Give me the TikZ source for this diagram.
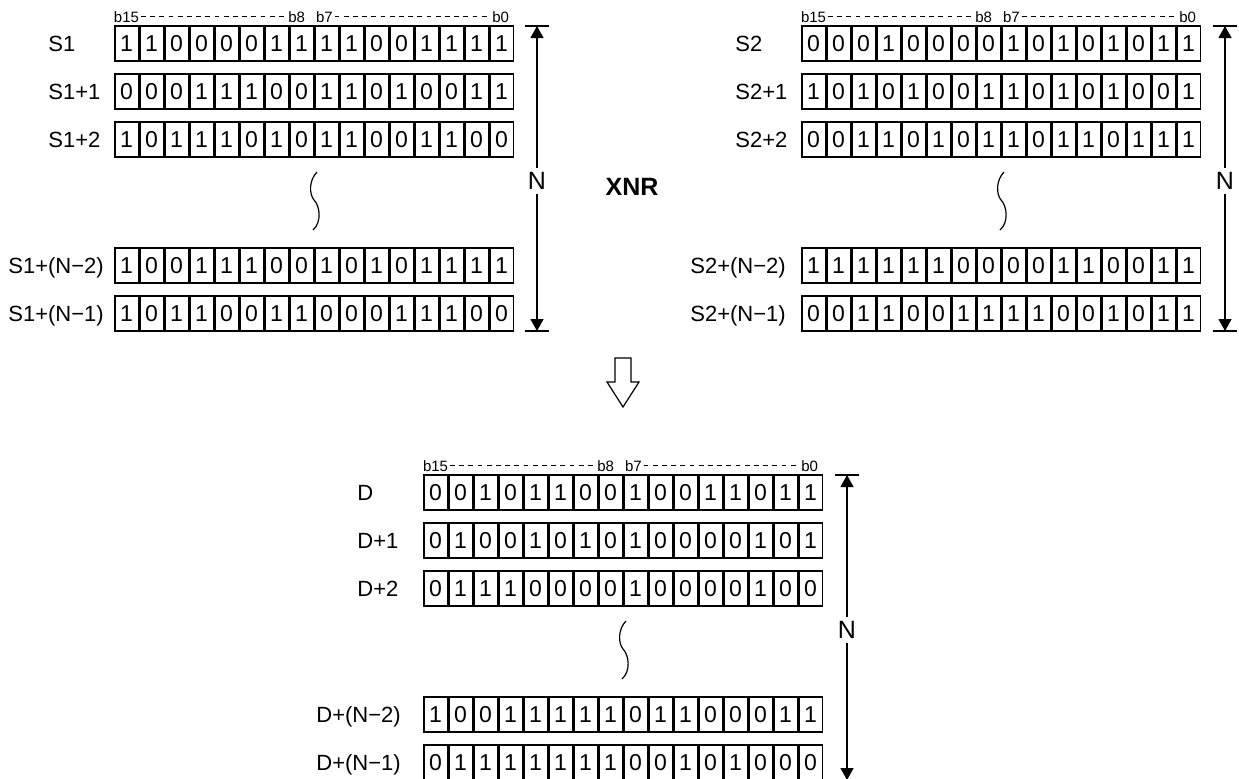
\documentclass[tikz,border=0pt]{standalone}
\usepackage{fontspec}
\setmainfont{Liberation Sans}
\usetikzlibrary{arrows.meta}

\begin{document}
\begin{tikzpicture}[
    x=0.5bp,y=-0.5bp,>={Triangle[length=6bp,width=6.5bp]},
    bit cell/.style={draw,line width=0.6bp,minimum width=11.6bp,minimum height=17.5bp,
      inner sep=0pt,font=\fontsize{11.5bp}{11.5bp}\selectfont},
    row label/.style={anchor=base west,inner sep=0pt,font=\fontsize{11bp}{11bp}\selectfont},
    bit label/.style={inner sep=0.8bp,font=\fontsize{7.5bp}{7.5bp}\selectfont},
    bit dash/.style={dash pattern=on 2.4bp off 2.2bp,line width=0.4bp},
    n label/.style={inner sep=2bp,font=\fontsize{12.5bp}{12.5bp}\selectfont},
    n arrow/.style={->,line width=0.6bp},
    n tick/.style={line width=0.6bp},
    brace line/.style={line width=0.6bp}
  ]
    \useasboundingbox (0,0) rectangle (1239,778);
    % S1 block
    \node[bit label,anchor=base west] (s1b15) at (112,22) {b15};
    \node[bit label,anchor=base east] (s1b8) at (307,22) {b8};
    \node[bit label,anchor=base west] (s1b7) at (314,22) {b7};
    \node[bit label,anchor=base east] (s1b0) at (511,22) {b0};
    \draw[bit dash] (s1b15.east) -- (s1b8.west);
    \draw[bit dash] (s1b7.east) -- (s1b0.west);
    \node[row label] (s1l0) at (48,51) {S1};
    \node[row label] (s1l1) at (48,99) {S1+1};
    \node[row label] (s1l2) at (48,147) {S1+2};
    \node[row label] (s1lm2) at (8,273) {S1+(N−2)};
    \node[row label] (s1lm1) at (8,321) {S1+(N−1)};
    \foreach \b [count=\i from 0] in {1,1,0,0,0,0,1,1,1,1,0,0,1,1,1,1}
      \node[bit cell] (s1r0-\i) at (126.5+25*\i,43.5) {\b};
    \foreach \b [count=\i from 0] in {0,0,0,1,1,1,0,0,1,1,0,1,0,0,1,1}
      \node[bit cell] (s1r1-\i) at (126.5+25*\i,91.5) {\b};
    \foreach \b [count=\i from 0] in {1,0,1,1,1,0,1,0,1,1,0,0,1,1,0,0}
      \node[bit cell] (s1r2-\i) at (126.5+25*\i,139.5) {\b};
    \foreach \b [count=\i from 0] in {1,0,0,1,1,1,0,0,1,0,1,0,1,1,1,1}
      \node[bit cell] (s1rm2-\i) at (126.5+25*\i,265.5) {\b};
    \foreach \b [count=\i from 0] in {1,0,1,1,0,0,1,1,0,0,0,1,1,1,0,0}
      \node[bit cell] (s1rm1-\i) at (126.5+25*\i,313.5) {\b};
    \draw[brace line] (317,172) .. controls (309,180) and (309,194) .. (314,200)
      .. controls (320,206) and (322,222) .. (313,230);
    \coordinate (s1top) at (537,26);
    \coordinate (s1bot) at (537,331);
    \node[n label] (s1n) at (537,181) {N};
    \draw[n arrow] (s1n) -- (s1top);
    \draw[n arrow] (s1n) -- (s1bot);
    \draw[n tick] ([xshift=-6bp]s1top) -- ([xshift=6bp]s1top);
    \draw[n tick] ([xshift=-6bp]s1bot) -- ([xshift=6bp]s1bot);
    % operation
    \node[font=\bfseries\fontsize{12.5bp}{12.5bp}\selectfont] (op) at (632,187) {XNR};
    % S2 block
    \node[bit label,anchor=base west] (s2b15) at (799,22) {b15};
    \node[bit label,anchor=base east] (s2b8) at (994,22) {b8};
    \node[bit label,anchor=base west] (s2b7) at (1001,22) {b7};
    \node[bit label,anchor=base east] (s2b0) at (1198,22) {b0};
    \draw[bit dash] (s2b15.east) -- (s2b8.west);
    \draw[bit dash] (s2b7.east) -- (s2b0.west);
    \node[row label] (s2l0) at (735,51) {S2};
    \node[row label] (s2l1) at (735,99) {S2+1};
    \node[row label] (s2l2) at (735,147) {S2+2};
    \node[row label] (s2lm2) at (690,273) {S2+(N−2)};
    \node[row label] (s2lm1) at (690,321) {S2+(N−1)};
    \foreach \b [count=\i from 0] in {0,0,0,1,0,0,0,0,1,0,1,0,1,0,1,1}
      \node[bit cell] (s2r0-\i) at (813.5+25*\i,43.5) {\b};
    \foreach \b [count=\i from 0] in {1,0,1,0,1,0,0,1,1,0,1,0,1,0,0,1}
      \node[bit cell] (s2r1-\i) at (813.5+25*\i,91.5) {\b};
    \foreach \b [count=\i from 0] in {0,0,1,1,0,1,0,1,1,0,1,1,0,1,1,1}
      \node[bit cell] (s2r2-\i) at (813.5+25*\i,139.5) {\b};
    \foreach \b [count=\i from 0] in {1,1,1,1,1,1,0,0,0,0,1,1,0,0,1,1}
      \node[bit cell] (s2rm2-\i) at (813.5+25*\i,265.5) {\b};
    \foreach \b [count=\i from 0] in {0,0,1,1,0,0,1,1,1,1,0,0,1,0,1,1}
      \node[bit cell] (s2rm1-\i) at (813.5+25*\i,313.5) {\b};
    \draw[brace line,shift={(687,0)}] (317,172) .. controls (309,180) and (309,194) .. (314,200)
      .. controls (320,206) and (322,222) .. (313,230);
    \coordinate (s2top) at (1225,26);
    \coordinate (s2bot) at (1225,331);
    \node[n label] (s2n) at (1225,181) {N};
    \draw[n arrow] (s2n) -- (s2top);
    \draw[n arrow] (s2n) -- (s2bot);
    \draw[n tick] ([xshift=-6bp]s2top) -- ([xshift=6bp]s2top);
    \draw[n tick] ([xshift=-6bp]s2bot) -- ([xshift=6bp]s2bot);
    % result arrow
    \draw[line width=0.6bp,fill=white] (615,358) -- (631,358) -- (631,382) -- (639,382)
      -- (623,407) -- (607,382) -- (615,382) -- cycle;
    % D block
    \node[bit label,anchor=base west] (db15) at (421,471) {b15};
    \node[bit label,anchor=base east] (db8) at (616,471) {b8};
    \node[bit label,anchor=base west] (db7) at (623,471) {b7};
    \node[bit label,anchor=base east] (db0) at (820,471) {b0};
    \draw[bit dash] (db15.east) -- (db8.west);
    \draw[bit dash] (db7.east) -- (db0.west);
    \node[row label] (dl0) at (357,500) {D};
    \node[row label] (dl1) at (357,548) {D+1};
    \node[row label] (dl2) at (357,596) {D+2};
    \node[row label] (dlm2) at (316,722) {D+(N−2)};
    \node[row label] (dlm1) at (316,770) {D+(N−1)};
    \foreach \b [count=\i from 0] in {0,0,1,0,1,1,0,0,1,0,0,1,1,0,1,1}
      \node[bit cell] (dr0-\i) at (435.5+25*\i,492.5) {\b};
    \foreach \b [count=\i from 0] in {0,1,0,0,1,0,1,0,1,0,0,0,0,1,0,1}
      \node[bit cell] (dr1-\i) at (435.5+25*\i,540.5) {\b};
    \foreach \b [count=\i from 0] in {0,1,1,1,0,0,0,0,1,0,0,0,0,1,0,0}
      \node[bit cell] (dr2-\i) at (435.5+25*\i,588.5) {\b};
    \foreach \b [count=\i from 0] in {1,0,0,1,1,1,1,1,0,1,1,0,0,0,1,1}
      \node[bit cell] (drm2-\i) at (435.5+25*\i,714.5) {\b};
    \foreach \b [count=\i from 0] in {0,1,1,1,1,1,1,1,0,0,1,0,1,0,0,0}
      \node[bit cell] (drm1-\i) at (435.5+25*\i,762.5) {\b};
    \draw[brace line,shift={(309,449)}] (317,172) .. controls (309,180) and (309,194) .. (314,200)
      .. controls (320,206) and (322,222) .. (313,230);
    \coordinate (dtop) at (847,475);
    \coordinate (dbot) at (847,780);
    \node[n label] (dn) at (847,630) {N};
    \draw[n arrow] (dn) -- (dtop);
    \draw[n arrow] (dn) -- (dbot);
    \draw[n tick] ([xshift=-6bp]dtop) -- ([xshift=6bp]dtop);
    \draw[n tick] ([xshift=-6bp]dbot) -- ([xshift=6bp]dbot);
  \end{tikzpicture}
\end{document}
